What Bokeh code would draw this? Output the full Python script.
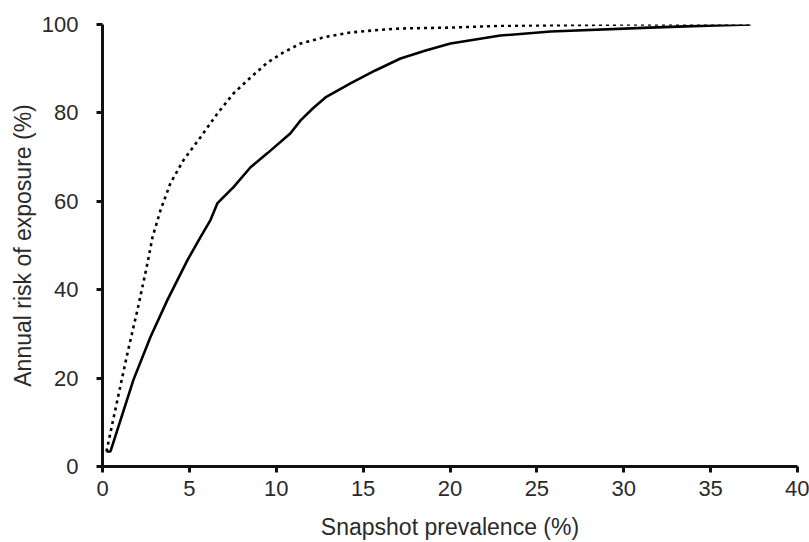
from bokeh.plotting import figure
from bokeh.models import Range1d, FixedTicker
from bokeh.embed import file_html
from bokeh.resources import INLINE

# Snapshot prevalence (%) vs annual risk of exposure (%)
solid_x = [0.23, 0.46, 1.78, 2.76, 3.74, 4.89, 5.64, 6.22, 6.62, 7.54, 8.52, 9.5,
           10.82, 11.4, 12.1, 12.83, 14.27, 15.7, 17.15, 18.6, 20.03, 22.9, 25.8,
           31.5, 34.4, 37.3]
solid_y = [3.4, 3.4, 19.6, 29.3, 37.7, 46.7, 51.9, 55.8, 59.6, 63.2, 67.7, 70.9,
           75.4, 78.3, 81.0, 83.5, 86.7, 89.6, 92.3, 94.1, 95.7, 97.5, 98.4,
           99.3, 99.7, 100.0]

dotted_x = [0.23, 0.46, 0.86, 1.44, 2.01, 2.59, 2.88, 3.34, 3.91, 4.66, 5.64, 6.62,
            7.54, 8.52, 9.5, 10.42, 11.4, 12.83, 14.27, 15.7, 17.15, 20.03, 22.9,
            30.0, 37.3]
dotted_y = [3.4, 7.7, 15.1, 25.7, 35.4, 46.0, 51.9, 58.0, 64.1, 69.3, 74.5, 79.9,
            84.4, 88.0, 91.4, 93.7, 95.7, 97.2, 98.2, 98.7, 99.1, 99.3, 99.7,
            100.0, 100.0]

x_ticks = [0, 5, 10, 15, 20, 25, 30, 35, 40]
y_ticks = [0, 20, 40, 60, 80, 100]

p = figure(width=809, height=542, output_backend="svg", toolbar_location=None,
           x_range=Range1d(0, 40), y_range=Range1d(0, 100),
           min_border_left=102, min_border_right=12, min_border_top=24,
           min_border_bottom=75)

p.outline_line_color = None
p.grid.visible = False
p.background_fill_color = "white"
p.border_fill_color = "white"

p.line(dotted_x, dotted_y, line_color="#000000", line_width=2.6, line_dash="3 4")
p.line(solid_x, solid_y, line_color="#000000", line_width=2.6)

font = "Liberation Sans"
for ax in (p.xaxis[0], p.yaxis[0]):
    ax.axis_line_width = 3
    ax.axis_line_color = "#111111"
    ax.major_tick_line_width = 3
    ax.major_tick_line_color = "#111111"
    ax.major_tick_out = 6
    ax.major_tick_in = 0
    ax.minor_tick_line_color = None
    ax.major_label_text_font = font
    ax.major_label_text_font_size = "22px"
    ax.major_label_text_color = "#2a2a2a"
    ax.axis_label_text_font = font
    ax.axis_label_text_font_size = "23px"
    ax.axis_label_text_font_style = "normal"
    ax.axis_label_text_color = "#2a2a2a"

p.xaxis[0].ticker = FixedTicker(ticks=x_ticks)
p.yaxis[0].ticker = FixedTicker(ticks=y_ticks)
p.xaxis[0].axis_label = "Snapshot prevalence (%)"
p.yaxis[0].axis_label = "Annual risk of exposure (%)"
p.xaxis[0].major_label_standoff = 8
p.yaxis[0].major_label_standoff = 18
p.xaxis[0].axis_label_standoff = 15
p.yaxis[0].axis_label_standoff = 3

open("out.html", "w").write(file_html(p, INLINE))
